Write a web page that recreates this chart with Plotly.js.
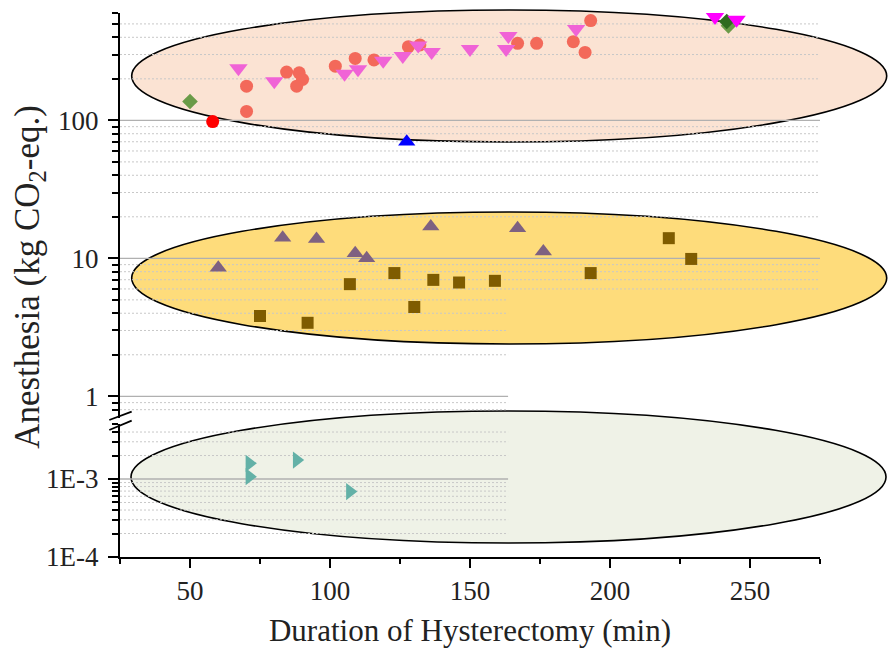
<!DOCTYPE html>
<html>
<head>
<meta charset="utf-8">
<script src="https://cdn.plot.ly/plotly-3.0.1.min.js"></script>
<style>html,body{margin:0;padding:0;background:#fff;}#chart{width:888px;height:649px;}</style>
</head>
<body>
<div id="chart"></div>
<script>
// ---- data ----
// upper band (y2, log)
const salmonX = [70.2, 70.2, 84.5, 89.0, 90.2, 88.1, 101.9, 109.0, 115.7, 128.0, 132.1, 167.0, 173.8, 186.9, 193.1, 191.1];
const salmonY = [177, 116, 224, 221, 198, 177, 247, 281, 274, 342, 352, 362, 362, 372, 529, 311];
const pinkX = [67.3, 80.1, 105.2, 110.0, 119.0, 126.0, 131.5, 136.3, 150.0, 163.7, 162.9, 187.9];
const pinkY = [239, 192, 218, 235, 271, 293, 349, 313, 329, 408, 329, 460];
const magentaX = [237.5, 245.2];
const magentaY = [561, 535];
const redX = [58.1];
const redY = [98];
const greenX = [50.0, 242.3];
const greenY = [137, 484];
const darkGreenX = [241.7];
const darkGreenY = [520];
const blueX = [127.4];
const blueY = [70];
// middle band (y2, log)
const purpleX = [60.1, 83.1, 95.2, 109.0, 113.1, 136.0, 167.0, 176.2];
const purpleY = [8.54, 14.1, 13.8, 10.9, 10.0, 17.0, 16.5, 11.2];
const brownX = [75.0, 92.0, 107.1, 123.0, 130.1, 136.9, 146.1, 158.9, 193.1, 221.0, 229.0];
const brownY = [3.82, 3.41, 6.5, 7.82, 4.44, 6.98, 6.68, 6.87, 7.82, 14.0, 9.9];
// lower band (y, log)
const tealX = [71.2, 71.2, 88.1, 107.1];
const tealY = [1.59e-3, 1.07e-3, 1.75e-3, 6.9e-4];

// ---- ticks ----
const xTickVals = [50, 100, 150, 200, 250];
const xMinorTicks = [25, 75, 125, 175, 225, 275];
const y2TickVals = [1, 10, 100];
const y2TickText = ['1', '10', '100'];
const y2MinorTicks = [0.8, 0.9, 2, 3, 4, 5, 6, 7, 8, 9, 20, 30, 40, 50, 60, 70, 80, 90, 200, 300, 400, 500, 600];
const yTickVals = [1e-4, 1e-3];
const yTickText = ['1E-4', '1E-3'];
const yMinorTicks = [2e-4, 3e-4, 4e-4, 5e-4, 6e-4, 7e-4, 8e-4, 9e-4, 2e-3, 3e-3, 4e-3, 5e-3];

// grid lines (full width vs. cut short as in the reference)
const y2MajorGridFull = [10, 100];
const y2MajorGridShort = [1];
const y2MinorGridFull = [6, 7, 8, 9, 20, 30, 40, 50, 60, 70, 80, 90, 200, 300, 400, 500];
const y2MinorGridShort = [0.8, 0.9, 2, 3, 4, 5];
const yMajorGridShort = [1e-3];
const yMinorGridShort = [2e-4, 3e-4, 4e-4, 5e-4, 6e-4, 7e-4, 8e-4, 9e-4, 2e-3, 3e-3, 4e-3];

const X_MIN = 25, X_MAX = 275, GRID_CUT = 163.6;
const SERIF = '"Liberation Serif", "Times New Roman", serif';

function sc(x, y, yaxis, symbol, color, size) {
  return {x: x, y: y, yaxis: yaxis, xaxis: 'x', type: 'scatter', mode: 'markers', cliponaxis: false,
    showlegend: false, hoverinfo: 'skip',
    marker: {symbol: symbol, color: color, size: size, line: {width: 0}}};
}

const traces = [
  sc(brownX, brownY, 'y2', 'square', '#7F5C00', 12),
  sc(purpleX, purpleY, 'y2', 'triangle-up', '#7E6181', 15),
  sc(tealX, tealY, 'y', 'triangle-right', '#63B1A7', 15),
  sc(salmonX, salmonY, 'y2', 'circle', '#F3695A', 13),
  sc(pinkX, pinkY, 'y2', 'triangle-down', '#F063D6', 16),
  sc(redX, redY, 'y2', 'circle', '#FF0000', 13),
  sc(blueX, blueY, 'y2', 'triangle-up', '#0000FF', 15),
  sc(greenX, greenY, 'y2', 'diamond', '#6A9B48', 12),
  sc(darkGreenX, darkGreenY, 'y2', 'diamond', '#2F6B20', 12),
  sc(magentaX, magentaY, 'y2', 'triangle-down', '#FF00FF', 16)
];

const shapes = [];
// highlight ellipses (paper coords so they can spill past the axes like the reference)
const ellipses = [
  {x0: 0.0167, x1: 1.0953, y0: 0.7629, y1: 1.0055, fill: '#FBE3D3'},
  {x0: 0.0167, x1: 1.0953, y0: 0.3915, y1: 0.6342, fill: '#FEDC7B'},
  {x0: 0.0157, x1: 1.0943, y0: 0.0257, y1: 0.2684, fill: '#EFF2E7'}
];
ellipses.forEach(e => shapes.push({type: 'circle', xref: 'paper', yref: 'paper', layer: 'below',
  x0: e.x0, x1: e.x1, y0: e.y0, y1: e.y1, fillcolor: e.fill, line: {color: '#000', width: 1.6}}));

function hline(v, yref, x1, major) {
  shapes.push({type: 'line', xref: 'x', yref: yref, layer: 'below', x0: X_MIN, x1: x1, y0: v, y1: v,
    line: major ? {color: '#B0B0B0', width: 1.3} : {color: '#C8C8C8', width: 1, dash: '2px,2px'}});
}
y2MinorGridFull.forEach(v => hline(v, 'y2', X_MAX, false));
y2MinorGridShort.forEach(v => hline(v, 'y2', GRID_CUT, false));
yMinorGridShort.forEach(v => hline(v, 'y', GRID_CUT, false));
y2MajorGridFull.forEach(v => hline(v, 'y2', X_MAX, true));
y2MajorGridShort.forEach(v => hline(v, 'y2', GRID_CUT, true));
yMajorGridShort.forEach(v => hline(v, 'y', GRID_CUT, true));

// axis break marks
shapes.push({type: 'line', xref: 'paper', yref: 'paper', layer: 'above', x0: -0.0153, x1: 0.0167, y0: 0.2518, y1: 0.2671, line: {color: '#000', width: 1.8}});
shapes.push({type: 'line', xref: 'paper', yref: 'paper', layer: 'above', x0: -0.0153, x1: 0.0167, y0: 0.2335, y1: 0.2506, line: {color: '#000', width: 1.8}});

const tickFont = {family: SERIF, size: 27, color: '#222'};
const layout = {
  width: 888, height: 649,
  margin: {l: 120, r: 68, t: 13, b: 92, pad: 0},
  paper_bgcolor: '#fff', plot_bgcolor: 'rgba(0,0,0,0)',
  showlegend: false,
  font: {family: SERIF, color: '#222'},
  xaxis: {
    range: [X_MIN, X_MAX], showgrid: false, zeroline: false, showline: true, linecolor: '#000', linewidth: 2,
    ticks: 'outside', ticklen: 9, tickwidth: 2, tickcolor: '#000',
    tickmode: 'array', tickvals: xTickVals, tickfont: tickFont, anchor: 'y',
    minor: {tickmode: 'array', tickvals: xMinorTicks, ticks: 'outside', ticklen: 5, tickwidth: 2, tickcolor: '#000', showgrid: false},
    title: {text: 'Duration of Hysterectomy (min)', font: {family: SERIF, size: 31, color: '#222'}, standoff: 14}
  },
  yaxis: {
    type: 'log', domain: [0, 0.2436], range: [-4, Math.log10(5e-3)],
    showgrid: false, zeroline: false, showline: true, linecolor: '#000', linewidth: 2,
    ticks: 'outside', ticklen: 10, tickwidth: 2, tickcolor: '#000', ticklabelstandoff: 4,
    tickmode: 'array', tickvals: yTickVals, ticktext: yTickText, tickfont: tickFont, anchor: 'x',
    minor: {tickmode: 'array', tickvals: yMinorTicks, ticks: 'outside', ticklen: 6, tickwidth: 2, tickcolor: '#000', showgrid: false}
  },
  yaxis2: {
    type: 'log', domain: [0.2561, 1], range: [Math.log10(0.7), Math.log10(600)],
    showgrid: false, zeroline: false, showline: true, linecolor: '#000', linewidth: 2,
    ticks: 'outside', ticklen: 10, tickwidth: 2, tickcolor: '#000', ticklabelstandoff: 4,
    tickmode: 'array', tickvals: y2TickVals, ticktext: y2TickText, tickfont: tickFont, anchor: 'x',
    minor: {tickmode: 'array', tickvals: y2MinorTicks, ticks: 'outside', ticklen: 6, tickwidth: 2, tickcolor: '#000', showgrid: false}
  },
  shapes: shapes,
  annotations: [{
    text: 'Anesthesia (kg CO<sub>2</sub>-eq.)', xref: 'paper', yref: 'paper', x: -0.1286, y: 0.515,
    xanchor: 'center', yanchor: 'middle', textangle: -90, showarrow: false,
    font: {family: SERIF, size: 35, color: '#222'}
  }]
};

Plotly.newPlot('chart', traces, layout, {staticPlot: true, displayModeBar: false});
</script>
</body>
</html>
